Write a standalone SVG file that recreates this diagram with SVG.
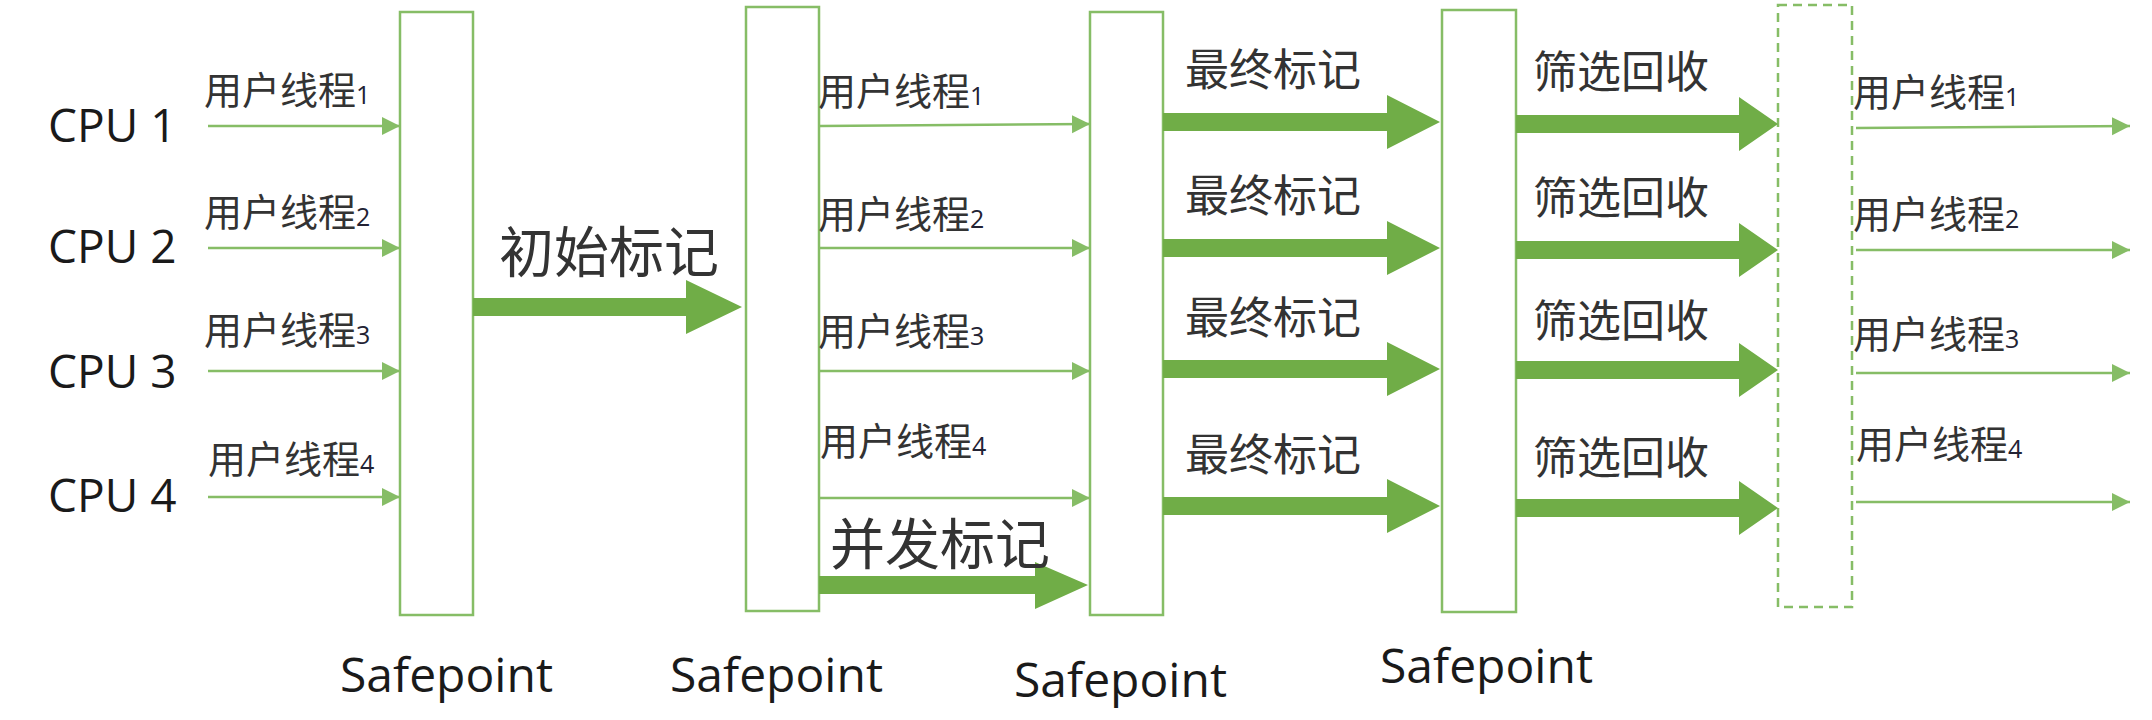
<svg xmlns="http://www.w3.org/2000/svg" width="2152" height="720" viewBox="0 0 2152 720">
<style>
.box{fill:#fff;stroke:#86bd66;stroke-width:2.5}
.dash{fill:none;stroke:#86bd66;stroke-width:2.5;stroke-dasharray:9 6}
.thin{stroke:#86bd66;stroke-width:2.5;fill:none}
.thick{fill:#70ad47}
.cpu{font-family:"Open Sans","Liberation Sans",sans-serif;font-size:46px;fill:#1a1a1a}
.sp{font-family:"Open Sans","Liberation Sans",sans-serif;font-size:48px;fill:#1a1a1a}
.ut{font-family:"Noto Sans CJK SC",sans-serif;font-size:38px;fill:#333}
.ut tspan{font-family:"Open Sans","Liberation Sans",sans-serif;font-size:25px;fill:#223}
.ph{font-family:"Noto Sans CJK SC",sans-serif;font-size:44px;fill:#333}
.big{font-family:"Noto Sans CJK SC",sans-serif;font-size:55px;fill:#333}
</style>
<defs>
<marker id="ah" markerUnits="userSpaceOnUse" markerWidth="20" markerHeight="20" refX="18" refY="9" orient="auto">
<polygon points="0,0 18,9 0,18" fill="#86bd66"/>
</marker>
</defs>

<g id="cpu-labels">
<text class="cpu" x="48" y="142">CPU 1</text>
<text class="cpu" x="48" y="263">CPU 2</text>
<text class="cpu" x="48" y="388">CPU 3</text>
<text class="cpu" x="48" y="512">CPU 4</text>
</g>

<g id="safepoint1"><rect class="box" x="400" y="12" width="73" height="603"/><text class="sp" x="340" y="692">Safepoint</text></g>
<g id="safepoint2"><rect class="box" x="746" y="7" width="73" height="604"/><text class="sp" x="670" y="692">Safepoint</text></g>
<g id="safepoint3"><rect class="box" x="1090" y="12" width="73" height="603"/><text class="sp" x="1014" y="697">Safepoint</text></g>
<g id="safepoint4"><rect class="box" x="1442" y="10" width="74" height="602"/><text class="sp" x="1380" y="683">Safepoint</text></g>
<g id="safepoint5"><rect class="dash" x="1778" y="5" width="74" height="602"/></g>

<g id="connectors">
<line class="thin" x1="208" y1="126" x2="400" y2="126" marker-end="url(#ah)"/>
<line class="thin" x1="208" y1="248" x2="400" y2="248" marker-end="url(#ah)"/>
<line class="thin" x1="208" y1="371" x2="400" y2="371" marker-end="url(#ah)"/>
<line class="thin" x1="208" y1="497" x2="400" y2="497" marker-end="url(#ah)"/>
<line class="thin" x1="820" y1="126" x2="1090" y2="124" marker-end="url(#ah)"/>
<line class="thin" x1="820" y1="248" x2="1090" y2="248" marker-end="url(#ah)"/>
<line class="thin" x1="820" y1="371" x2="1090" y2="371" marker-end="url(#ah)"/>
<line class="thin" x1="820" y1="498" x2="1090" y2="498" marker-end="url(#ah)"/>
<line class="thin" x1="1856" y1="128" x2="2130" y2="126" marker-end="url(#ah)"/>
<line class="thin" x1="1856" y1="250" x2="2130" y2="250" marker-end="url(#ah)"/>
<line class="thin" x1="1856" y1="373" x2="2130" y2="373" marker-end="url(#ah)"/>
<line class="thin" x1="1856" y1="502" x2="2130" y2="502" marker-end="url(#ah)"/>
<polygon class="thick" points="473,298 686,298 686,280 742,307 686,334 686,316 473,316"/>
<polygon class="thick" points="819,576 1035,576 1035,562 1088,585 1035,609 1035,594 819,594"/>
<polygon class="thick" points="1163,113 1387,113 1387,95 1440,122 1387,149 1387,131 1163,131"/>
<polygon class="thick" points="1163,239 1387,239 1387,221 1440,248 1387,275 1387,257 1163,257"/>
<polygon class="thick" points="1163,360 1387,360 1387,342 1440,369 1387,396 1387,378 1163,378"/>
<polygon class="thick" points="1163,497 1387,497 1387,479 1440,506 1387,533 1387,515 1163,515"/>
<polygon class="thick" points="1516,115 1739,115 1739,97 1778,124 1739,151 1739,133 1516,133"/>
<polygon class="thick" points="1516,241 1739,241 1739,223 1778,250 1739,277 1739,259 1516,259"/>
<polygon class="thick" points="1516,361 1739,361 1739,343 1778,370 1739,397 1739,379 1516,379"/>
<polygon class="thick" points="1516,499 1739,499 1739,481 1778,508 1739,535 1739,517 1516,517"/>
</g>

<g id="labels">
<text class="ut" x="204" y="104">用户线程<tspan>1</tspan></text>
<text class="ut" x="204" y="226">用户线程<tspan>2</tspan></text>
<text class="ut" x="204" y="344">用户线程<tspan>3</tspan></text>
<text class="ut" x="208" y="473">用户线程<tspan>4</tspan></text>

<text class="ut" x="818" y="105">用户线程<tspan>1</tspan></text>
<text class="ut" x="818" y="228">用户线程<tspan>2</tspan></text>
<text class="ut" x="818" y="345">用户线程<tspan>3</tspan></text>
<text class="ut" x="820" y="455">用户线程<tspan>4</tspan></text>

<text class="ut" x="1853" y="106">用户线程<tspan>1</tspan></text>
<text class="ut" x="1853" y="228">用户线程<tspan>2</tspan></text>
<text class="ut" x="1853" y="348">用户线程<tspan>3</tspan></text>
<text class="ut" x="1856" y="458">用户线程<tspan>4</tspan></text>

<text class="big" x="499" y="272">初始标记</text>
<text class="big" x="830" y="564">并发标记</text>

<text class="ph" x="1185" y="86">最终标记</text>
<text class="ph" x="1185" y="212">最终标记</text>
<text class="ph" x="1185" y="334">最终标记</text>
<text class="ph" x="1185" y="471">最终标记</text>

<text class="ph" x="1533" y="88">筛选回收</text>
<text class="ph" x="1533" y="214">筛选回收</text>
<text class="ph" x="1533" y="337">筛选回收</text>
<text class="ph" x="1533" y="474">筛选回收</text>
</g>
</svg>
